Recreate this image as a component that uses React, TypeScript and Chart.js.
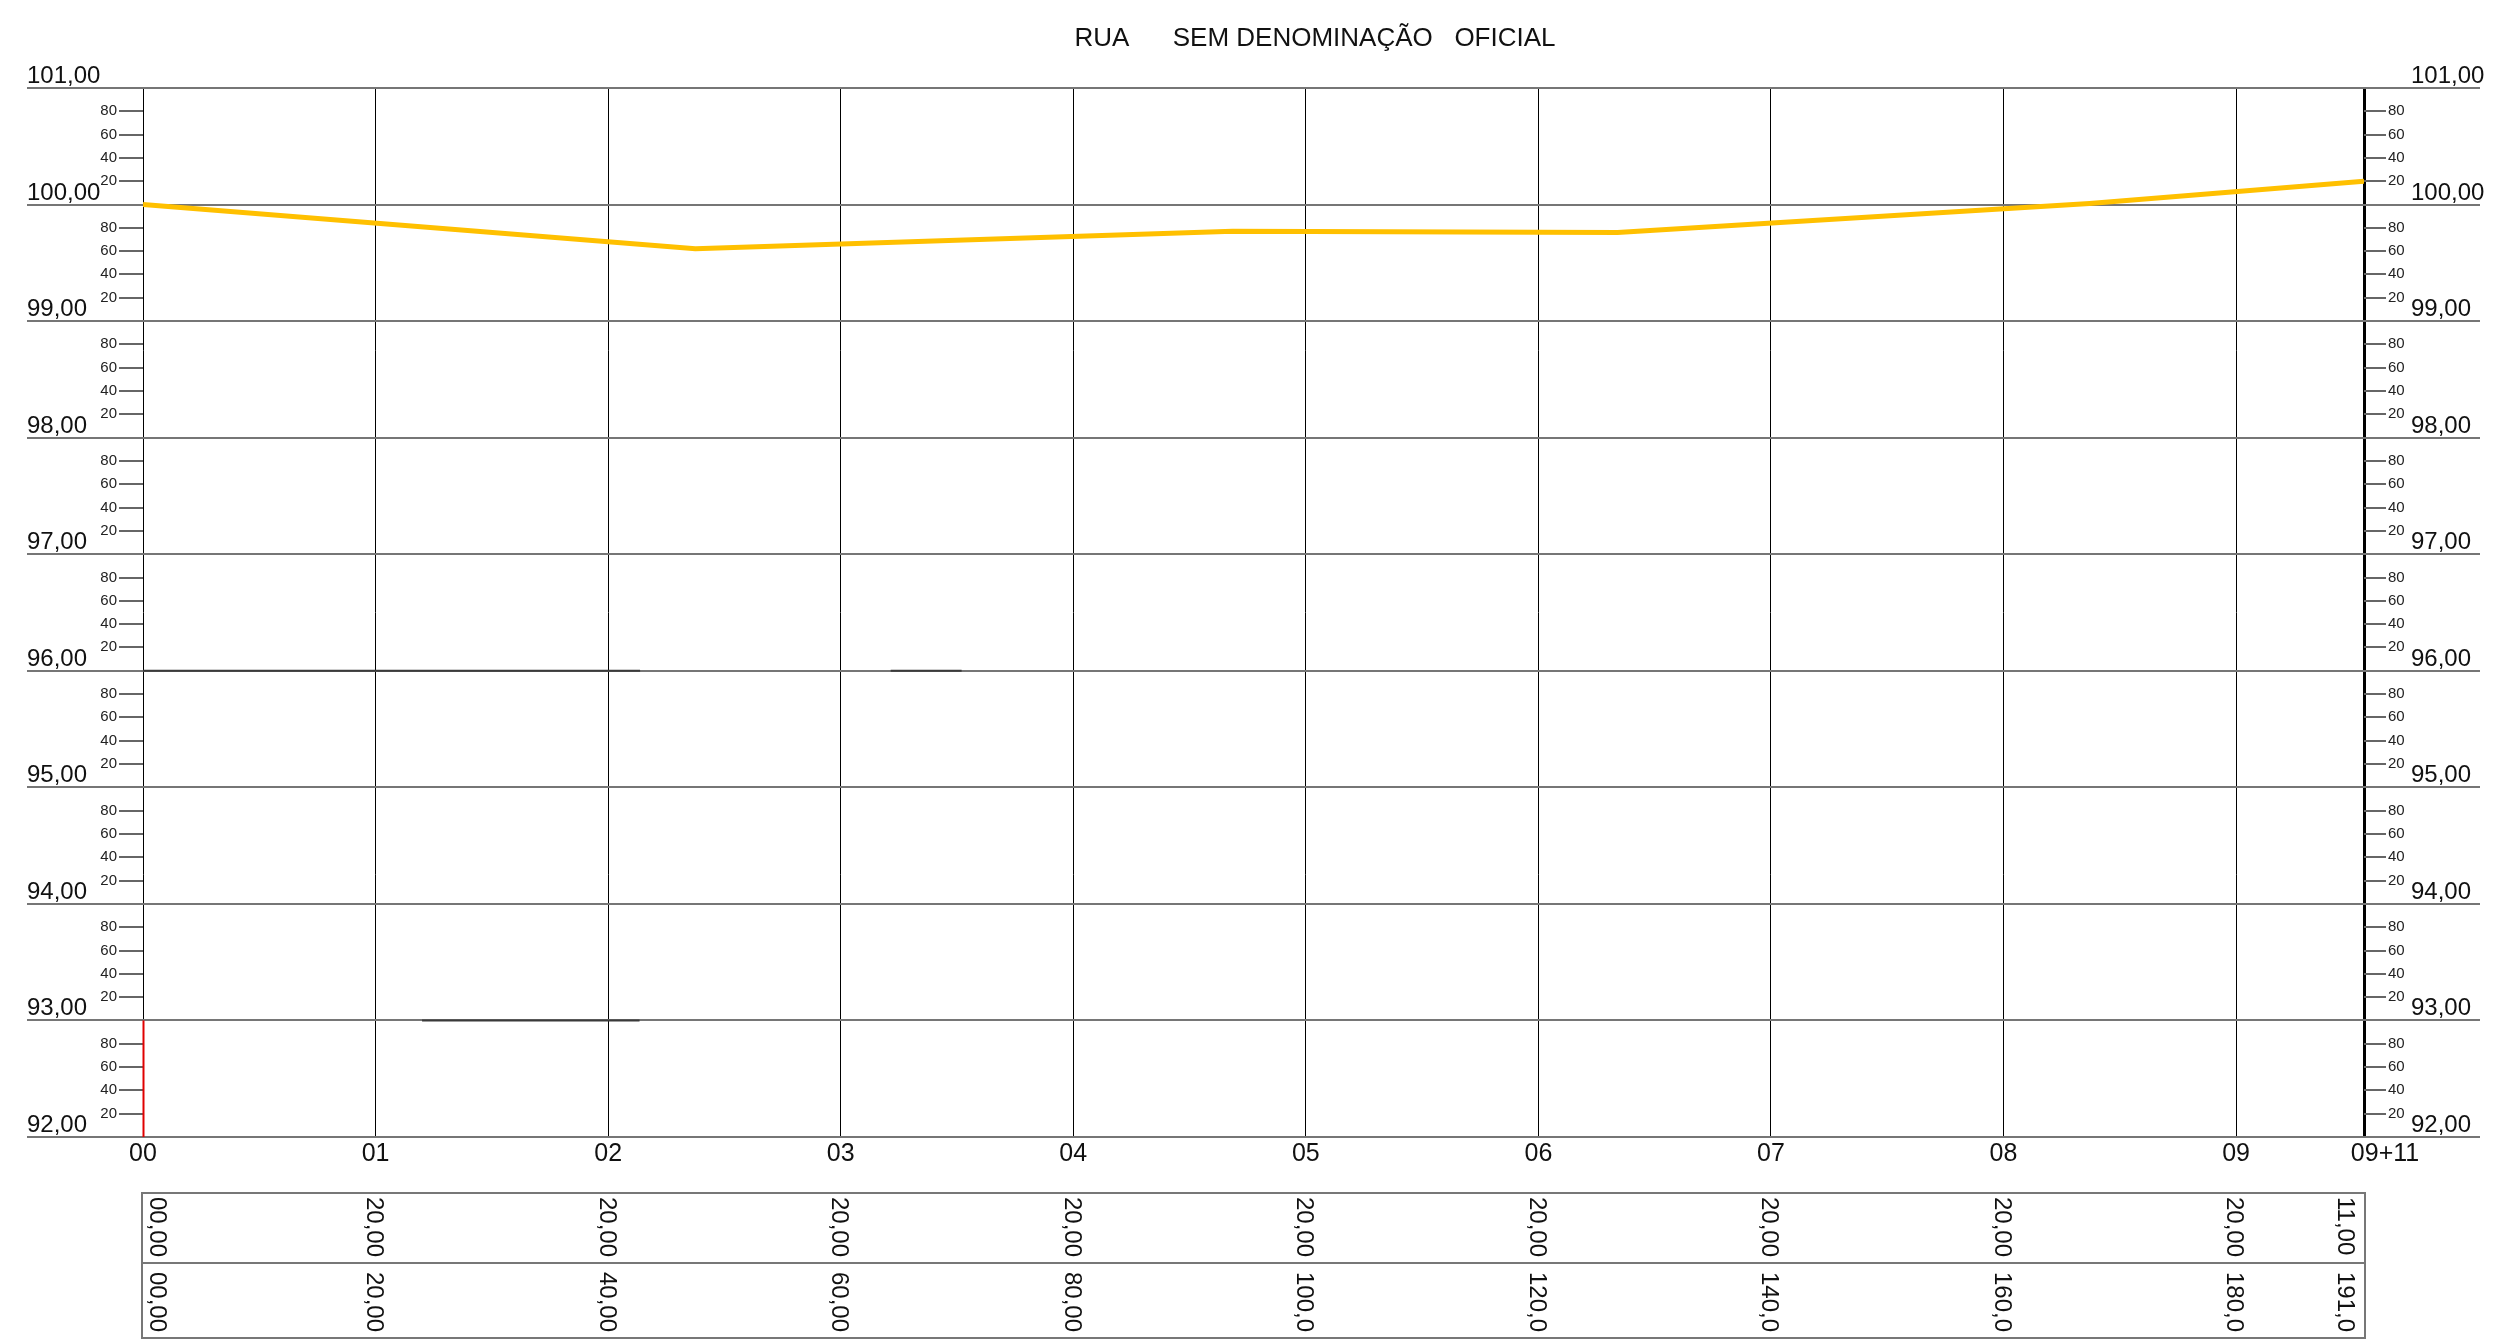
import React, { useEffect, useRef } from "react";
import { Chart, registerables } from "chart.js";

Chart.register(...registerables);

// ---- data ----
const profileDistances = [0, 47.5, 93.7, 126.8, 167.4, 191];
const profileElevations = [100.0, 99.62, 99.77, 99.76, 100.01, 100.2];

const stationPositions = [0, 20, 40, 60, 80, 100, 120, 140, 160, 180, 191];
const stationLabels = ["00", "01", "02", "03", "04", "05", "06", "07", "08", "09", "09+11"];
const partialLabels = ["00,00", "20,00", "20,00", "20,00", "20,00", "20,00", "20,00", "20,00", "20,00", "20,00", "11,00"];
const cumulativeLabels = ["00,00", "20,00", "40,00", "60,00", "80,00", "100,0", "120,0", "140,0", "160,0", "180,0", "191,0"];

const majorValues = [92, 93, 94, 95, 96, 97, 98, 99, 100, 101];
const majorLabels = ["92,00", "93,00", "94,00", "95,00", "96,00", "97,00", "98,00", "99,00", "100,00", "101,00"];
const minorFractions = [0.2, 0.4, 0.6, 0.8];
const minorLabels = ["20", "40", "60", "80"];

// faint darker segments over grid lines
const segA = [{ x: 0, y: 96 }, { x: 42.75, y: 96 }];
const segB = [{ x: 64.3, y: 96 }, { x: 70.4, y: 96 }];
const segC = [{ x: 24.0, y: 93 }, { x: 42.7, y: 93 }];

const TITLE = "RUA      SEM DENOMINAÇÃO   OFICIAL";
const SANS = "'Liberation Sans', Arial, sans-serif";

const drawPlugin = {
  id: "profileDecor",
  beforeDatasetsDraw(chart: any) {
    const ctx = chart.ctx;
    const xs = chart.scales.x;
    const ys = chart.scales.y;
    ctx.save();
    // horizontal grid lines extended beyond the plot
    ctx.strokeStyle = "#767676";
    ctx.lineWidth = 2;
    majorValues.forEach((v) => {
      const py = Math.round(ys.getPixelForValue(v));
      ctx.beginPath();
      ctx.moveTo(xs.left - 116, py);
      ctx.lineTo(xs.right + 116, py);
      ctx.stroke();
    });
    // minor ticks both sides
    ctx.strokeStyle = "#666";
    ctx.lineWidth = 2;
    ctx.fillStyle = "#222";
    ctx.font = `15px ${SANS}`;
    ctx.textBaseline = "middle";
    for (let i = 0; i < majorValues.length - 1; i++) {
      minorFractions.forEach((f, j) => {
        const py = Math.round(ys.getPixelForValue(majorValues[i] + f));
        ctx.beginPath();
        ctx.moveTo(xs.left - 24, py);
        ctx.lineTo(xs.left, py);
        ctx.moveTo(xs.right, py);
        ctx.lineTo(xs.right + 22, py);
        ctx.stroke();
        ctx.textAlign = "right";
        ctx.fillText(minorLabels[j], xs.left - 26, py);
        ctx.textAlign = "left";
        ctx.fillText(minorLabels[j], xs.right + 24, py);
      });
    }
    ctx.restore();
  },
  afterDatasetsDraw(chart: any) {
    const ctx = chart.ctx;
    const xs = chart.scales.x;
    const ys = chart.scales.y;
    ctx.save();
    // red segment on left axis
    const x0 = Math.round(xs.getPixelForValue(0)) + 0.5;
    ctx.strokeStyle = "#e00000";
    ctx.lineWidth = 2;
    ctx.beginPath();
    ctx.moveTo(x0, ys.getPixelForValue(92));
    ctx.lineTo(x0, ys.getPixelForValue(93));
    ctx.stroke();

    // major labels
    ctx.fillStyle = "#111";
    ctx.font = `24px ${SANS}`;
    ctx.textBaseline = "alphabetic";
    ctx.textAlign = "left";
    majorValues.forEach((v, i) => {
      const py = ys.getPixelForValue(v);
      ctx.fillText(majorLabels[i], xs.left - 116, py - 5);
      ctx.fillText(majorLabels[i], xs.right + 47, py - 5);
    });

    // station labels
    ctx.font = `25px ${SANS}`;
    ctx.textBaseline = "middle";
    ctx.textAlign = "center";
    stationPositions.forEach((s, i) => {
      const px = xs.getPixelForValue(s);
      const off = i === stationPositions.length - 1 ? 21 : 0;
      ctx.fillText(stationLabels[i], px + off, ys.bottom + 17);
    });

    // table
    const tTop = ys.bottom + 56;
    const tMid = ys.bottom + 126;
    const tBot = ys.bottom + 201;
    const tl = xs.left - 1;
    const tr = xs.right + 1;
    ctx.strokeStyle = "#777";
    ctx.lineWidth = 2;
    ctx.strokeRect(tl, tTop, tr - tl, tBot - tTop);
    ctx.beginPath();
    ctx.moveTo(tl, tMid);
    ctx.lineTo(tr, tMid);
    ctx.stroke();

    ctx.fillStyle = "#111";
    ctx.font = `24px ${SANS}`;
    ctx.textAlign = "left";
    ctx.textBaseline = "middle";
    stationPositions.forEach((s, i) => {
      const px = xs.getPixelForValue(s);
      const last = stationPositions.length - 1;
      const off = i === 0 ? 14 : i === last ? -19 : -2;
      [
        [partialLabels[i], tTop + 4],
        [cumulativeLabels[i], tMid + 9],
      ].forEach(([txt, ty]) => {
        ctx.save();
        ctx.translate(px + off, ty as number);
        ctx.rotate(Math.PI / 2);
        ctx.fillText(txt as string, 0, 0);
        ctx.restore();
      });
    });

    // title
    ctx.font = `26px ${SANS}`;
    ctx.textAlign = "center";
    ctx.textBaseline = "middle";
    ctx.fillStyle = "#111";
    ctx.fillText(TITLE, xs.left + 1172, 39);
    ctx.restore();
  },
};

export default function App() {
  const ref = useRef<HTMLCanvasElement>(null);
  useEffect(() => {
    if (!ref.current) return;
    const chart = new Chart(ref.current, {
      type: "line",
      data: {
        datasets: [
          {
            label: "Perfil",
            data: profileDistances.map((d, i) => ({ x: d, y: profileElevations[i] })),
            borderColor: "#FFC000",
            borderWidth: 5,
            pointRadius: 0,
            tension: 0,
            order: 0,
          },
          { label: "a", data: segA, borderColor: "#3a3a3a", borderWidth: 2, pointRadius: 0, order: 1 },
          { label: "b", data: segB, borderColor: "#3a3a3a", borderWidth: 2, pointRadius: 0, order: 1 },
          { label: "c", data: segC, borderColor: "#3a3a3a", borderWidth: 2, pointRadius: 0, order: 1 },
        ],
      },
      options: {
        responsive: false,
        animation: false,
        layout: { padding: { left: 143, right: 137, top: 88, bottom: 203 } },
        plugins: {
          legend: { display: false },
          tooltip: { enabled: false },
          title: { display: false },
        },
        scales: {
          x: {
            type: "linear",
            min: 0,
            max: 191,
            afterBuildTicks: (scale: any) => {
              scale.ticks = stationPositions.map((v) => ({ value: v }));
            },
            afterFit: (scale: any) => {
              scale.height = 0;
            },
            ticks: { display: false },
            border: { display: false },
            grid: {
              drawTicks: false,
              color: "#000",
              lineWidth: (c: any) => (c.tick && c.tick.value === 191 ? 3 : 1),
            },
          },
          y: {
            type: "linear",
            min: 92,
            max: 101,
            afterFit: (scale: any) => {
              scale.width = 0;
            },
            ticks: { display: false },
            border: { display: false },
            grid: { display: false },
          },
        },
      } as any,
      plugins: [drawPlugin],
    });
    return () => chart.destroy();
  }, []);
  return (
    <div style={{ position: "fixed", left: 0, top: 0, width: 2501, height: 1340, background: "#fff" }}>
      <canvas ref={ref} width={2501} height={1340} style={{ display: "block", width: 2501, height: 1340 }} />
    </div>
  );
}
